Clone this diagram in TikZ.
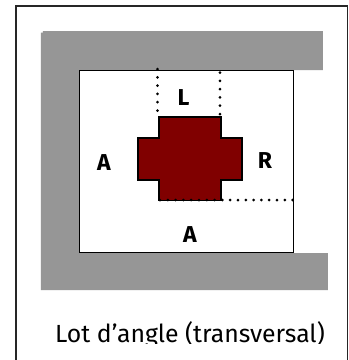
\documentclass[tikz,border=0pt]{standalone}
\usepackage{fontspec}
\setmainfont{Fira Sans}
\definecolor{band}{HTML}{969696}
\definecolor{lot}{HTML}{800000}
\tikzset{
  px/.style={x=1pt,y=-1pt},
  bandfill/.style={fill=band,draw=none},
  dotline/.style={line width=3pt,line cap=round,dash pattern=on 0pt off 8.3pt},
  lab/.style={font=\bfseries\fontsize{23}{23}\selectfont,inner sep=0pt,anchor=base},
  pt/.style={inner sep=0pt,minimum size=0pt}
}
\begin{document}
\begin{tikzpicture}[px]
\useasboundingbox (0,0) rectangle (349,360);
\fill[white] (0,0) rectangle (349,360);
\draw[line width=1.3pt,color=black!85] (16,360) -- (16,6) -- (347.5,6) -- (347.5,360);
\fill[bandfill] (41,32.5) -- (43,32.5) -- (43,31) -- (323,31) -- (323,70) -- (79,70) -- (79,253) -- (328,253) -- (328,290) -- (41,290) -- cycle;
\draw[line width=0.9pt] (79,70.5) rectangle (293,252);
\draw[fill=lot,line width=1.2pt] (159,117) -- (221,117) -- (221,138) -- (242,138) -- (242,180) -- (221,180) -- (221,200.5) -- (159,200.5) -- (159,180) -- (138,180) -- (138,138) -- (159,138) -- cycle;
\coordinate (a1) at (157.5,69);
\coordinate (a2) at (157.5,112);
\coordinate (b1) at (220,72.5);
\coordinate (b2) at (220,116);
\coordinate (c1) at (160,200);
\coordinate (c2) at (293,200);
\draw[dotline] (a1) -- (a2);
\draw[dotline] (b1) -- (b2);
\draw[dotline,dash pattern=on 0pt off 7.8pt] (c1) -- (c2);
\node[lab] (l) at (183.5,105) {L};
\node[lab] (a) at (104,170.5) {A};
\node[lab] (r) at (265,168) {R};
\node[lab] (b) at (190,242) {A};
\begin{scope}
\clip (0,300) rectangle (349,343);
\node[pt,anchor=base west,font=\fontsize{24.8}{24.8}\selectfont] (t) at (55,342) {Lot d’angle (transversal)};
\end{scope}
\end{tikzpicture}
\end{document}
